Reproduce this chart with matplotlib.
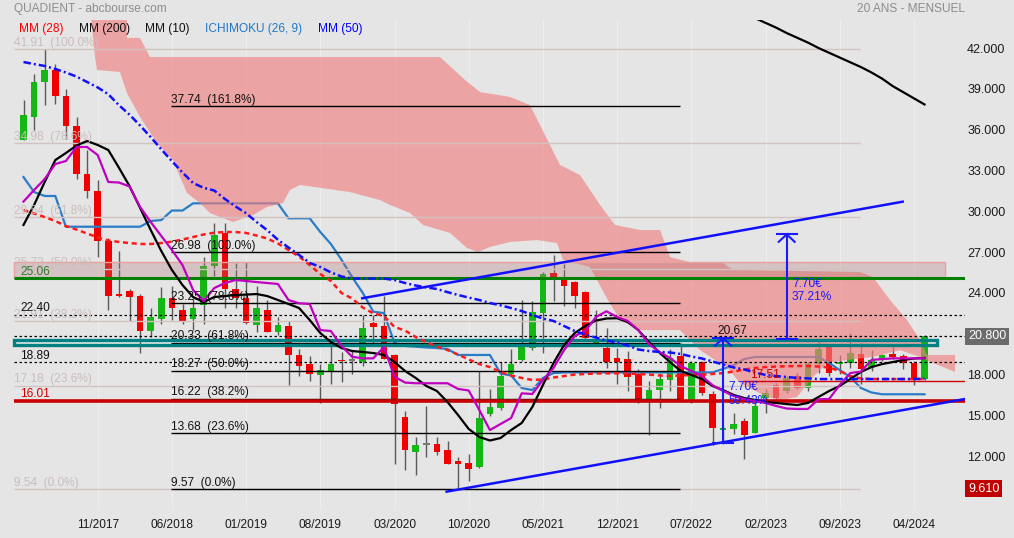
import numpy as np
import matplotlib.pyplot as plt
from matplotlib.patches import Rectangle

plt.rcParams['font.family'] = ['Liberation Sans', 'DejaVu Sans']

BG = '#e5e5e5'

# monthly candles, index 0 = 04/2017 ... index 85 = 05/2024
opens = [35.2, 36.95, 39.5, 40.4, 38.5, 36.3, 32.7, 31.5, 27.8, 23.9,
         24.1, 23.8, 21.2, 22.1, 23.6, 22.7, 22.05, 23.1, 26.0, 28.4,
         24.3, 23.6, 21.6, 22.7, 21.14, 21.56, 19.4, 18.8, 17.93, 18.2,
         19.05, 19.0, 18.9, 21.76, 21.56, 19.4, 14.87, 12.32, 12.8, 12.86,
         12.44, 11.63, 11.46, 11.22, 15.07, 15.55, 18.05, 19.04, 19.96, 22.54,
         25.48, 25.07, 24.79, 24.06, 20.33, 19.96, 19.18, 19.1, 18.0, 16.21,
         16.83, 17.56, 19.35, 16.12, 18.91, 16.53, 13.89, 14.0, 14.57, 13.72,
         16.29, 17.22, 16.78, 17.88, 17.02, 18.74, 20.14, 18.79, 18.86, 19.48,
         18.54, 19.04, 19.48, 19.35, 18.86, 17.69]
highs = [38.2, 40.1, 41.91, 40.8, 39.0, 36.9, 34.5, 32.3, 28.0, 27.1,
         24.3, 23.9, 22.9, 24.4, 24.5, 23.2, 23.6, 26.6, 29.1, 29.15,
         26.2, 26.3, 24.5, 23.5, 22.2, 21.9, 19.9, 19.35, 18.74, 20.5,
         19.65, 19.72, 22.35, 22.37, 23.8, 19.5, 15.3, 13.4, 15.68, 13.4,
         13.1, 11.93, 12.17, 18.25, 16.9, 18.9, 19.84, 23.5, 23.4, 25.5,
         26.76, 26.1, 24.9, 24.1, 22.7, 21.44, 19.96, 19.7, 18.4, 17.5,
         18.13, 19.84, 20.3, 19.0, 19.0, 16.8, 14.2, 15.18, 14.8, 16.0,
         16.9, 17.4, 17.9, 18.1, 18.9, 20.38, 20.2, 19.4, 21.07, 20.33,
         19.77, 19.52, 20.26, 19.5, 19.0, 20.9]
lows = [35.2, 35.95, 37.8, 37.9, 35.3, 32.4, 31.0, 26.6, 22.7, 23.7,
        21.9, 19.6, 20.75, 21.7, 22.0, 21.7, 21.3, 21.7, 25.2, 22.9,
        22.9, 21.7, 21.1, 21.1, 20.9, 17.2, 17.9, 17.5, 15.9, 17.3,
        17.45, 18.0, 18.6, 20.09, 19.1, 11.4, 10.95, 10.6, 11.95, 12.07,
        11.39, 9.57, 10.16, 11.1, 14.94, 15.4, 18.0, 19.0, 19.77, 19.6,
        23.4, 23.03, 22.86, 20.5, 20.3, 18.5, 17.27, 16.8, 15.9, 13.55,
        15.5, 16.78, 16.0, 15.9, 16.5, 12.81, 12.9, 13.6, 11.8, 13.7,
        15.15, 16.2, 16.6, 16.9, 16.8, 18.13, 17.9, 18.0, 18.5, 17.27,
        18.25, 19.0, 19.1, 18.37, 17.22, 17.6]
closes = [37.1, 39.5, 40.4, 38.5, 36.3, 32.7, 31.5, 27.8, 23.8, 23.8,
          23.7, 21.2, 22.2, 23.6, 22.9, 21.9, 22.86, 26.0, 28.25, 24.3,
          23.6, 21.75, 22.9, 21.14, 21.63, 19.43, 18.6, 18.0, 18.3, 18.8,
          18.95, 19.0, 21.44, 21.5, 19.1, 15.8, 12.42, 12.78, 12.8, 12.32,
          11.44, 11.39, 11.02, 14.77, 15.6, 17.88, 18.74, 20.29, 22.59, 25.4,
          25.16, 24.5, 23.76, 20.65, 20.5, 18.94, 18.94, 17.83, 16.1, 16.83,
          17.64, 19.18, 16.04, 18.86, 16.66, 14.03, 14.08, 14.32, 13.54, 15.68,
          16.61, 16.29, 17.76, 17.02, 18.74, 19.89, 18.13, 18.91, 19.55, 18.37,
          19.04, 19.4, 19.3, 18.86, 17.76, 20.8]

# indicators, one value per month
mm10 = [28.99, 30.46, 32.15, 33.76, 34.28, 34.83, 35.16, 34.87, 34.5, 33.2,
        31.85, 30.24, 28.62, 27.07, 25.68, 24.57, 23.69, 23.32, 23.69, 23.76,
        23.84, 23.87, 23.91, 23.76, 23.47, 23.18, 22.88, 22.0, 21.04, 20.38,
        19.94, 19.72, 19.65, 19.57, 19.43, 18.91, 18.25, 17.74, 17.15, 16.78,
        15.97, 15.01, 13.99, 13.4, 13.14, 13.32, 13.91, 14.43, 15.6, 17.22,
        18.84, 20.16, 21.04, 21.56, 21.96, 22.11, 22.13, 21.85, 21.26, 20.38,
        19.6, 18.9, 18.25, 17.96, 17.66, 17.15, 16.85, 16.49, 16.26, 16.12,
        15.97, 15.9, 15.82, 15.75, 15.9, 16.34, 16.78, 17.15, 17.66, 18.18,
        18.54, 18.76, 18.91, 19.06, 19.17, 19.21]
tenkan = [30.71, 31.56, 32.37, 33.47, 33.69, 34.72, 34.72, 34.13, 32.15, 32.11,
          31.82, 30.31, 29.21, 28.18, 27.15, 26.04, 24.21, 23.4, 24.35, 24.72,
          24.94, 24.87, 24.79, 24.72, 24.65, 23.47, 23.23, 23.18, 21.26, 21.19,
          20.09, 19.3, 19.18, 19.18, 20.01, 17.83, 17.4, 17.35, 17.35, 17.35,
          17.35, 16.93, 16.82, 15.38, 13.91, 14.35, 14.79, 16.61, 16.56, 17.59,
          18.47, 19.79, 20.82, 21.19, 22.22, 22.64, 22.22, 21.93, 21.26, 20.24,
          19.65, 19.21, 18.62, 18.25, 17.88, 17.21, 16.78, 16.41, 16.19, 16.04,
          15.9, 15.68, 15.49, 15.46, 15.46, 16.17, 16.19, 17.22, 18.1, 18.21,
          19.06, 19.13, 19.18, 19.18, 19.18, 19.18]
kijun = [32.51, 31.41, 31.12, 31.12, 28.86, 28.86, 28.86, 28.86, 28.86, 28.86,
         28.86, 28.86, 29.28, 29.35, 30.05, 30.05, 30.58, 30.58, 30.58, 30.58,
         30.58, 30.58, 30.58, 30.58, 30.58, 29.48, 29.48, 29.48, 28.47, 27.59,
         26.43, 25.16, 24.0, 22.61, 22.51, 20.31, 20.09, 20.04, 19.98, 19.94,
         19.87, 19.43, 19.43, 19.43, 19.43, 18.07, 17.92, 17.0, 16.85, 17.74,
         18.1, 18.15, 18.15, 18.15, 18.15, 18.15, 18.15, 18.15, 18.15, 18.15,
         18.15, 18.15, 18.15, 18.15, 18.15, 18.15, 18.4, 18.69, 19.13, 19.28,
         19.28, 19.28, 19.28, 19.28, 19.28, 19.28, 18.84, 18.32, 17.81, 17.0,
         16.67, 16.54, 16.54, 16.54, 16.54, 16.54]
mm28 = [30.09, 29.83, 29.57, 29.28, 28.91, 28.65, 28.36, 28.07, 27.85, 27.74,
        27.66, 27.59, 27.59, 27.66, 27.76, 27.92, 28.1, 28.29, 28.42, 28.47,
        28.47, 28.4, 28.21, 27.99, 27.63, 27.15, 26.67, 26.04, 25.38, 24.87,
        23.99, 23.58, 22.92, 22.49, 22.3, 21.49, 21.22, 20.75, 20.38, 20.05,
        19.79, 19.46, 19.1, 18.76, 18.54, 18.18, 17.92, 17.74, 17.59, 17.63,
        17.77, 17.88, 17.99, 18.03, 18.07, 18.08, 18.08, 18.07, 18.03, 17.99,
        17.92, 17.88, 17.92, 17.96, 17.99, 18.03, 18.1, 18.21, 18.36, 18.47,
        18.54, 18.58, 18.6, 18.62, 18.62, 18.58, 18.51, 18.25, 17.88, 17.7,
        17.66, 17.66, 17.66, 17.66, 17.66, 17.66]
mm50 = [40.97, 40.82, 40.68, 40.46, 40.2, 39.9, 39.5, 39.1, 38.6, 37.8,
        37.1, 36.3, 35.45, 34.55, 33.68, 32.85, 32.07, 31.72, 31.52, 30.9,
        30.35, 29.85, 29.2, 28.6, 27.9, 27.33, 26.78, 26.2, 25.9, 25.5,
        25.2, 25.05, 25.05, 25.05, 25.05, 24.94, 24.72, 24.54, 24.4, 24.28,
        24.05, 23.84, 23.65, 23.47, 23.25, 23.08, 22.88, 22.66, 22.37, 22.11,
        21.93, 21.56, 21.19, 20.93, 20.71, 20.49, 20.35, 20.13, 19.83, 19.72,
        19.65, 19.61, 19.5, 19.32, 19.17, 18.95, 18.73, 18.51, 18.36, 18.14,
        17.96, 17.88, 17.81, 17.74, 17.71, 17.66, 17.66, 17.66, 17.66, 17.66,
        17.66, 17.66, 17.66, 17.66, 17.66, 17.68]
mm200_idx = list(range(69, 86))
mm200 = [44.2, 43.85, 43.5, 43.1, 42.75, 42.4, 42.0, 41.65, 41.3,
         40.95, 40.6, 40.2, 39.75, 39.2, 38.75, 38.3, 37.85]

# ichimoku cloud outline (month index, price)
cloud_top_x = [6.27, 9.76, 9.76, 10.99, 11.93, 39.29, 41.65, 43.07, 45.9, 47.78,
               49.2, 50.61, 52.5, 54.39, 55.8, 58.16, 60.05, 61.0, 63.16, 66.0,
               66.93, 78.9, 80.14, 81.75, 83.35, 84.58, 85.24, 87.88]
cloud_top_y = [45.0, 45.0, 42.74, 42.74, 41.34, 41.34, 39.65, 38.76, 38.4, 37.81,
               35.6, 33.4, 32.66, 30.46, 28.99, 28.62, 28.62, 26.63, 26.19, 26.19,
               25.68, 25.53, 25.16, 23.47, 22.0, 20.53, 19.43, 19.43]
cloud_bot_x = [6.27, 6.75, 6.93, 9.1, 9.76, 10.99, 12.59, 14.1, 15.42, 16.65,
               17.59, 19.76, 21.65, 22.97, 24.48, 25.14, 26.08, 30.8, 33.63, 34.58,
               36.46, 37.69, 40.24, 41.84, 42.88, 44.0, 45.9, 48.44, 50.33, 50.9,
               53.44, 54.86, 56.27, 58.16, 61.93, 63.82, 65.24, 66.37, 67.59, 70.14,
               71.37, 72.97, 74.48, 75.8, 77.69, 80.14, 82.69, 84.58, 85.8, 87.88]
cloud_bot_y = [45.0, 41.34, 40.38, 40.24, 38.69, 36.93, 35.01, 33.76, 31.34, 30.6,
               29.87, 29.21, 29.72, 30.31, 30.6, 31.56, 31.93, 31.41, 30.82, 30.46,
               29.87, 28.99, 28.4, 27.29, 27.0, 27.37, 27.74, 27.88, 27.66, 26.41,
               25.9, 23.84, 22.0, 21.26, 21.26, 19.79, 19.06, 18.54, 17.37, 16.34,
               16.12, 16.34, 17.81, 18.84, 19.06, 19.28, 19.79, 19.28, 18.84, 18.18]

# retracements
fib_levels = [37.74, 26.98, 23.25, 20.33, 18.27, 16.22, 13.68, 9.57]
fib_pct = ['161.8%', '100.0%', '78.6%', '61.8%', '50.0%', '38.2%', '23.6%', '0.0%']
old_fib_levels = [41.91, 34.98, 29.54, 25.72, 21.91, 17.18, 9.54]
old_fib_pct = ['100.0%', '78.6%', '61.8%', '50.0%', '38.2%', '23.6%', '0.0%']

dotted_levels = [22.40, 20.80, 18.89]
green_level = 25.06
red_level = 16.01
thin_red_level = 17.51
zone = (25.10, 26.25)
teal_zone = (20.15, 20.55)

# channel lines (month index, price)
upper_trend = ([31.96, 82.94], [23.6, 30.7])
lower_trend = ([39.92, 88.8], [9.38, 16.19])

# measured moves
arrow_idx = [66, 72]
arrow_low = [12.97, 20.60]
arrow_high = [20.67, 28.30]
arrow_gain = ['7.70€', '7.70€']
arrow_pct = ['59.43%', '37.21%']

tick_idx = [7, 14, 21, 28, 35, 42, 49, 56, 63, 70, 77, 84]
tick_labels = ['11/2017', '06/2018', '01/2019', '08/2019', '03/2020', '10/2020',
               '05/2021', '12/2021', '07/2022', '02/2023', '09/2023', '04/2024']

last_price = 20.80
low_price = 9.61

idx = np.arange(len(opens))
o = np.array(opens)
c = np.array(closes)

fig = plt.figure(figsize=(10.14, 5.38), dpi=100, facecolor=BG)
ax = fig.add_axes([0, 28 / 538, 965 / 1014, 490 / 538])
ax.set_facecolor(BG)
ax.set_xlim(-2.217, 88.82)
ax.set_ylim(8.03, 44.06)
for s in ax.spines.values():
    s.set_visible(False)
ax.grid(axis='x', color='#eeeeee', lw=0.8)
ax.set_axisbelow(True)

# candles
colors = np.where(c > o, '#14b814', np.where(c < o, '#f00000', '#777777'))
ax.vlines(idx, lows, highs, color='#5a5a5a', lw=1, zorder=3)
ax.bar(idx, np.maximum(np.abs(c - o), 0.12), bottom=np.minimum(o, c),
       width=0.64, color=colors, linewidth=0, zorder=4)

# kijun sits under the cloud
ax.plot(idx, kijun, color='#2a7cc8', lw=1.6, zorder=4.5)

ax.fill(np.r_[cloud_top_x, cloud_bot_x[::-1]], np.r_[cloud_top_y, cloud_bot_y[::-1]],
        color='#f08080', alpha=0.65, lw=0, zorder=5)

ax.add_patch(Rectangle((-0.9, zone[0]), 87.8, zone[1] - zone[0],
                       fc=(0.7, 0.45, 0.45, 0.3), ec='#eba0a0', lw=1, zorder=5.5))

# old retracement (faint)
ax.hlines(old_fib_levels, -0.9, 78.9, color='#d3c2c2', lw=1, zorder=6)
for lv, p in zip(old_fib_levels, old_fib_pct):
    ax.text(-0.9, lv + 0.03, f'{lv:.2f}  ({p})', color='#cbbdbd', fontsize=8.6,
            va='bottom', ha='left', zorder=9)

# current retracement
ax.hlines(fib_levels, 13.92, 61.93, color='black', lw=1, zorder=6.5)
for lv, p in zip(fib_levels, fib_pct):
    ax.text(13.92, lv + 0.03, f'{lv:.2f}  ({p})', color='#111111', fontsize=8.6,
            va='bottom', ha='left', zorder=9)

ax.hlines(dotted_levels, -0.9, 88.82, color='black', lw=0.9,
          linestyles=(0, (2, 2)), zorder=6.5)
ax.hlines(green_level, -0.9, 88.82, color='#008000', lw=2.2, zorder=6.6)
ax.hlines(red_level, -0.9, 88.82, color='#c80000', lw=2.6, zorder=6.6)
ax.hlines(thin_red_level, 67.88, 88.82, color='#d00000', lw=1, zorder=6.6)
ax.add_patch(Rectangle((-0.9, teal_zone[0]), 87.07, teal_zone[1] - teal_zone[0],
                       fill=False, ec='#008080', lw=2.4, zorder=6.7))

ax.text(-0.33, green_level + 0.05, f'{green_level:.2f}', color='#2f7a2f', fontsize=8.6,
        va='bottom', zorder=9)
ax.text(-0.33, dotted_levels[0] + 0.03, f'{dotted_levels[0]:.2f}', color='#111111',
        fontsize=8.6, va='bottom', zorder=9)
ax.text(-0.33, dotted_levels[2] + 0.03, f'{dotted_levels[2]:.2f}', color='#111111',
        fontsize=8.6, va='bottom', zorder=9)
ax.text(-0.33, red_level + 0.12, f'{red_level:.2f}', color='#d00000', fontsize=8.6,
        va='bottom', zorder=9)
ax.text(68.5, thin_red_level + 0.03, f'{thin_red_level:.2f}', color='#c00000',
        fontsize=8.6, va='bottom', zorder=9)

# moving averages
ax.plot(idx, mm28, color='#ff1a1a', lw=1.8, dashes=(2, 1.5), zorder=7)
ax.plot(idx, mm10, color='black', lw=1.6, zorder=7.1)
ax.plot(mm200_idx, mm200, color='black', lw=1.6, zorder=7.1)
ax.plot(idx, tenkan, color='#c000c0', lw=1.6, zorder=7.2)
ax.plot(idx, mm50, color='#1010ff', lw=1.8, dashes=(3, 1.2, 0.8, 1.2), zorder=7.3)

# channel
ax.plot(*upper_trend, color='#1010ff', lw=1.8, zorder=8)
ax.plot(*lower_trend, color='#1010ff', lw=1.8, zorder=8)

# arrows
for k, (ax_i, lo, hi) in enumerate(zip(arrow_idx, arrow_low, arrow_high)):
    kw = dict(color='#1a1aff', lw=1.5, zorder=8.5)
    ax.plot([ax_i, ax_i], [lo, hi], **kw)
    ax.plot([ax_i - 0.95, ax_i + 0.95], [hi, hi], **kw)
    ax.plot([ax_i - 0.95, ax_i + 0.95], [lo, lo], **kw)
    ax.plot([ax_i - 0.75, ax_i, ax_i + 0.75], [hi - 0.55, hi, hi - 0.55], **kw)
    mid = (lo + hi) / 2
    ax.text(ax_i + 0.5, mid + 0.22, arrow_gain[k], color='#1a1aff', fontsize=8.6,
            va='center', zorder=9)
    ax.text(ax_i + 0.5, mid - 0.75, arrow_pct[k], color='#1a1aff', fontsize=8.6,
            va='center', zorder=9)
ax.text(arrow_idx[0] - 0.5, arrow_high[0] + 0.05, f'{arrow_high[0]:.2f}', color='#111111',
        fontsize=8.6, va='bottom', zorder=9)

# axes ticks
ax.yaxis.tick_right()
yt = np.arange(12, 43, 3)
ax.set_yticks(yt)
ax.set_yticklabels([f'{v:.3f}' for v in yt])
ax.tick_params(axis='y', length=0, pad=1.5, labelsize=9, labelcolor='#1a1a1a')
ax.set_xticks(tick_idx)
ax.set_xticklabels(tick_labels)
ax.tick_params(axis='x', length=0, pad=6.5, labelsize=8.6, labelcolor='#1a1a1a')

tr = ax.get_yaxis_transform()
ax.text(1.003, last_price, f'{last_price:.3f}', transform=tr, color='white', fontsize=9,
        va='center', ha='left', zorder=10,
        bbox=dict(boxstyle='square,pad=0.22', fc='#6b6b6b', ec='none'))
ax.text(1.003, low_price, f'{low_price:.3f}', transform=tr, color='white', fontsize=9,
        va='center', ha='left', zorder=10,
        bbox=dict(boxstyle='square,pad=0.22', fc='#c00000', ec='none'))

# header
fig.text(14 / 1014, 1 - 9 / 538, 'QUADIENT - abcbourse.com', color='#8c8c8c',
         fontsize=8.6, va='center')
fig.text(965 / 1014, 1 - 9 / 538, '20 ANS - MENSUEL', color='#8c8c8c',
         fontsize=8.6, va='center', ha='right')
legend = [('MM (28)', '#ff0000', 19), ('MM (200)', '#111111', 79), ('MM (10)', '#111111', 145),
          ('ICHIMOKU (26, 9)', '#1e78c8', 205), ('MM (50)', '#0000ff', 318)]
for name, col, px in legend:
    fig.text(px / 1014, 1 - 29 / 538, name, color=col, fontsize=8.6, va='center')

fig.savefig('out.png', dpi=100, facecolor=BG)
